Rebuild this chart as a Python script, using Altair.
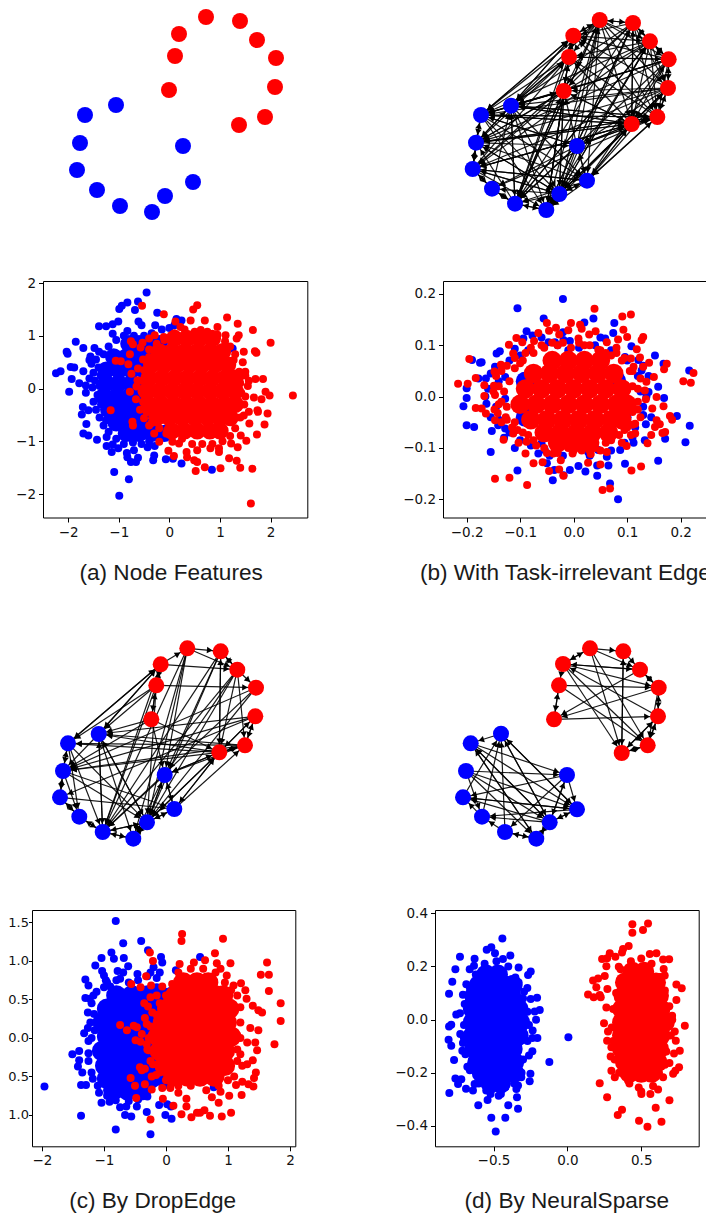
import math
import altair as alt
import pandas as pd

# ---------- graph node positions ----------
NODES_A = [(206,17),(240,21),(257,40),(276,58),(275,87),(265,117),(239,125),(169,90),(175,56),(179,34),
           (85,115),(116,105),(183,146),(193,182),(165,196),(152,212),(120,206),(97,190),(77,170),(80,143)]
NODES_B = [(599.7,20),(633,23),(650,41.3),(668.7,59.3),(668,88),(657.3,117),(631.7,124),(563.7,91),(569,57),(573.3,35.7),
           (481,115),(511,105.7),(577,146),(587,180.7),(559.3,194),(546.3,210),(515,203.7),(492,188.7),(472.7,169),(476,142.7)]
NODES_C = [(187.3,648.3),(220.7,651.3),(237.3,669.7),(256,687.7),(255.3,716.3),(245,745.3),(219.3,752.3),(151.3,719.3),(156.3,685.3),(160.7,664.3),
           (68,743.3),(98.7,734),(164.7,775),(174.3,809),(147,822.3),(133.3,838.7),(102.7,832),(79.3,816.7),(60,797.3),(63,771)]
NODES_D = [(590,648.3),(623.3,651.3),(640,669.7),(658.7,687.7),(658,716.3),(647.7,745.3),(621.7,753),(554,719.3),(559,685.3),(563,664),
           (470.7,743.3),(501,733.7),(567,775),(577,809.3),(549.7,822.3),(536.3,838.7),(505,832),(482,816.7),(463,797.3),(466,771)]

# ---------- graph edges: source -> targets (0-9 red nodes, 10-19 blue nodes) ----------
EDGES_B = {
 0:[1,2,3,8,9,6,5,4,7,10,11,15,16,13], 1:[0,2,3,4,5,6,7,9,11,14,15,16,18], 2:[1,3,4,5,6,8,10,14,15,18,19,16],
 3:[2,4,5,6,7,8,9,10,11,14,16,19], 4:[3,5,6,7,9,10,11,12,19,18,14], 5:[4,6,8,9,10,11,12,13,19,18,17],
 6:[5,4,1,7,8,10,11,12,13,14,19,18,15], 7:[8,6,11,10,19,18,16,15,14], 8:[7,9,3,10,11,19,16,15], 9:[8,0,2,10,11,16],
 10:[19,18,12,13,14,15,9,5,6,7], 11:[10,13,14,15,16,19,9,7,6,5,8], 12:[13,14,16,17,10,6,5,7,0], 13:[12,14,15,16,18,19,5,6,4,3],
 14:[13,15,16,17,18,19,6,7,0,2], 15:[14,16,7,8,1], 16:[15,17,19,11,7,0,2], 17:[16,18,11], 18:[17,19,13,14,15,6,8], 19:[18,10,11,12,14,6,5],
}
EDGES_C = {
 0:[1,2,16,12,15,14], 1:[2,6,14,16,12], 2:[1,3,5,6,14,12,16], 3:[19,16,14], 4:[5,6,11,19,18], 5:[4,6,19,10,11,12],
 6:[1,4,5,10,11,19,12,13,14], 7:[6,8,11,19,12], 8:[3,7,9,11,10,16,14], 9:[0,2,8,10,11,16],
 10:[9,14,19,17,16], 11:[9,14,15,16,19], 12:[6,13,14,15,16], 13:[5,6,12,14], 14:[6,11,12,13,15,16], 15:[14,16],
 16:[11,14,15,17], 17:[16,18], 18:[13,17,19], 19:[10,13,14,17,18],
}
EDGES_D = {
 0:[1,2,5,6,9], 1:[2,6], 2:[3,7,9], 3:[2,4,5,7], 4:[3,5,6,9], 5:[4,6], 6:[1,4,5], 7:[4,8], 8:[3,5,7], 9:[0,2,3,5,6,8],
 10:[12,13,14,15], 11:[10,13,14], 12:[13,14,16,18], 13:[11,14,17,18], 14:[10,11,12,13,15,17,18], 15:[10,14,16],
 16:[11,15,17], 17:[11,18], 18:[11,13], 19:[12,13,14,15,17],
}

# ---------- scatter (a): Node Features ----------
A_BLUE = [(-.45,1.82),(-.62,1.65),(-.83,1.63),(-.94,1.57),(-.99,1.51),(-.68,1.49),(-.24,1.44),(-1.01,1.27),(-1.12,1.22),(-1.25,1.18),(-1.39,1.18),(-.61,1.27),(-.55,1.2),(-.28,1.2),(-.83,1.09),(-1.12,1.04),(-1.85,.89),(-1.7,.77),(-2.01,.66),(-2.03,.7),(-1.48,.77),(-1.39,.7),(-1.56,.61),(-1.58,.54),(-1.54,.47),(-1.95,.41),(-1.88,.4),(-1.7,.33),(-2.15,.33),(-2.24,.29),(-1.93,.18),(-1.78,.1),(-1.98,-.06),(-1.58,.19),(-1.65,.06),(-1.65,-.08),(-1.71,-.35),(-1.73,-.49),(-1.6,-.41),(-1.64,-.67),(-1.7,-.85),(-1.6,-.89),(-1.43,-.97),(-1.24,-.92),(-1.24,-1.09),(-1.12,-1.06),(-1.01,-1.13),(-1.14,-1.2),(-.84,-1.22),(-.7,-1.17),(-.83,-1.3),(-.76,-1.39),(-.66,-1.39),(-.62,-1.31),(-1.09,-1.58),(-.8,-1.72),(-.99,-2.03),(-.43,-1.11),(-.29,-1.09),(-.3,-1.27),(-.32,-1.36),(-.07,-1.34),(.07,-1.33),(.24,-1.42),(.84,-1.54),(.14,1.32),(.24,1.29),(1.25,.76)]
A_BLUE_EDGE = [(-1.45,.55),(-1.4,.4),(-1.5,.3),(-1.47,.15),(-1.52,.02),(-1.42,-.12),(-1.5,-.25),(-1.45,-.4),(-1.38,-.55),(-1.3,-.7),(-1.2,-.82),(-1.05,-.95),(-.9,-1.05),(-.72,-1.02),(-.55,-1.05),(-.4,-1.),(-1.3,.65),(-1.2,.8),(-1.05,.92),(-.9,1.),(-.7,1.),(-.5,1.),(-.35,1.05),(-.15,1.12),(0,1.15),(.1,1.2),(-1.36,.25),(-1.38,.05),(-1.35,-.3),(-1.25,-.6)]
A_BLUE_CORE = {.85:[-.8,-.6,-.4,-.2],.6:[-1.1,-.85,-.6,-.35],.35:[-1.25,-1.,-.75,-.5],.1:[-1.25,-1.,-.75,-.5],-.15:[-1.3,-1.05,-.8,-.55],-.4:[-1.2,-.95,-.7,-.45],-.65:[-1.05,-.8,-.55],-.85:[-.85,-.6,-.35,-.1]}
A_RED = [(-.54,1.57),(-.11,1.41),(.55,1.58),(.47,1.5),(.42,1.29),(.7,1.29),(1.14,1.35),(1.35,1.23),(1.65,1.11),(2.,.87),(1.37,1.01),(1.33,.95),(1.47,.7),(1.69,.71),(1.72,.68),(1.85,.18),(1.7,.18),(1.57,.15),(1.9,-.06),(1.98,-.13),(1.82,-.2),(2.44,-.13),(1.67,-.17),(1.94,-.47),(1.74,-.41),(1.75,-.44),(1.57,-.44),(1.47,-.51),(1.88,-.68),(1.58,-.66),(1.73,-.87),(1.52,-.99),(1.41,-.89),(1.35,-1.11),(1.22,-1.04),(.81,-1.13),(.98,-1.13),(.98,-1.2),(1.18,-1.32),(1.33,-1.37),(1.4,-1.5),(1.64,-1.52),(1.01,-1.51),(.7,-1.49),(.52,-1.56),(.55,-1.39),(.49,-1.36),(.34,-1.2),(.35,-1.3),(.55,-1.17),(.09,-1.28),(-.02,-1.18),(1.61,-2.18),(-1.16,-.41),(-.73,-.63),(-.72,-.7),(-1.06,.53),(-.96,.52),(-.78,.65),(-.81,.46),(-.78,-.06),(-.76,.9),(-.72,.84),(-.53,.87),(-.57,.78),(-.4,.74),(-.52,.55),(-.62,.38),(-.75,.28),(-.63,.16),(-.65,.04),(-.66,-.2),(-.58,-.4),(-.5,-.56),(-.4,-.7),(-.3,-.85),(-.2,-1.01),(.19,-1.04),(.06,-1.01),(-.06,-.85),(-.4,.95),(-.29,1.01),(-.11,.98),(.12,1.27),(.22,1.17),(.62,1.11),(.95,1.17),(1.11,1.01),(.88,.95),(1.27,.54),(1.5,.32)]
A_RED_EDGE = [(1.45,.5),(1.5,.25),(1.55,.05),(1.5,-.15),(1.48,-.3),(1.4,-.55),(1.3,-.75),(1.2,-.9),(1.05,-1.),(.85,-1.05),(.65,-1.05),(.45,-1.05),(.25,-.95),(1.3,.65),(1.2,.8),(1.1,.9),(.95,1.02),(.75,1.08),(.5,1.08),(.3,1.12),(.1,1.05),(-.1,.92),(-.25,.85),(-.4,.6),(-.5,.35),(-.55,.15),(-.55,-.05),(-.52,-.25),(-.45,-.45),(-.35,-.65),(-.2,-.75),(1.38,.32),(1.4,.1),(1.42,-.08)]
A_RED_CORE = {.95:[.1,.35,.6,.85],.7:[-.2,.05,.3,.55,.8,1.05],.45:[-.35,-.1,.15,.4,.65,.9,1.15],.2:[-.4,-.15,.1,.35,.6,.85,1.1,1.3],-.05:[-.45,-.2,.05,.3,.55,.8,1.05,1.3],-.3:[-.4,-.15,.1,.35,.6,.85,1.1,1.3],-.55:[-.25,0,.25,.5,.75,1.,1.2],-.8:[.05,.3,.55,.8,1.]}

# ---------- scatter (b): With Task-irrelevant Edges ----------
B_BLUE = [(-.02,.19),(-.105,.172),(-.056,.152),(.037,.152),(.02,.144),(.076,.143),(.074,.124),(-.088,.127),(-.077,.119),(.059,.113),(.108,.098),(.152,.08),(.168,.064),(.216,.051),(.158,.019),(.169,-.003),(.193,-.038),(.217,-.057),(.209,-.089),(.171,-.082),(.158,-.125),(.135,-.054),(.096,-.131),(.133,-.085),(.112,-.09),(.087,-.104),(.083,-.2),(.068,-.169),(.065,-.134),(.044,-.154),(.044,-.134),(.022,-.146),(.009,-.135),(-.007,-.143),(-.019,-.153),(-.039,-.163),(-.036,-.143),(-.05,-.13),(-.066,-.111),(-.105,-.144),(-.155,-.108),(-.153,-.067),(-.141,-.056),(-.186,-.059),(-.2,-.056),(-.206,-.019),(-.2,-.003),(-.2,.016),(-.175,.066),(-.172,.067),(-.19,.071),(-.144,.084),(-.138,.088),(-.147,.058),(-.178,.035),(-.164,.035),(-.163,-.014),(-.165,0),(-.11,.093),(-.094,.113),(-.047,.106),(-.035,.106),(-.019,.11),(-.007,.108),(-.01,.09),(.096,.077),(.121,.071),(.127,.051),(.136,0),(.14,.009),(.13,-.036),(.062,-.117),(.046,-.104),(.027,-.108),(-.054,-.104),(-.06,-.091),(-.128,-.062),(-.128,-.004),(-.128,.038)]
B_BLUE_EDGE = [(-.12,.07),(-.1,.08),(-.085,.09),(-.14,.03),(-.145,-.02),(-.14,-.045),(-.12,-.07),(-.1,-.085),(-.08,-.095),(-.03,.1),(.01,.095),(.04,.1),(.07,.09),(.1,.07),(.12,.04),(.125,.01),(.13,-.02),(.115,-.06),(.095,-.09),(.07,-.105),(.03,-.115),(-.02,-.115),(-.045,-.115),(-.155,.045),(-.16,.015),(-.155,-.04),(-.13,-.08),(-.11,-.1),(.14,.04),(.145,-.04),(.13,.06),(.11,-.08),(.05,.115),(-.06,.115),(-.02,.125)]
B_BLUE_CORE = {.03:[-.09,.08],-.04:[-.09,.09]}
B_RED = [(.039,.171),(.107,.16),(.091,.156),(-.05,.143),(-.033,.134),(-.046,.128),(-.027,.121),(-.005,.143),(-.01,.129),(.012,.14),(.015,.132),(.041,.127),(.029,.121),(-.066,.124),(-.107,.114),(.093,.13),(.1,.116),(.083,.111),(.13,.116),(.127,.11),(.062,.106),(.009,.113),(-.096,.106),(-.121,.101),(-.074,.108),(-.113,.084),(-.195,.073),(-.136,.062),(-.148,.049),(-.183,.036),(-.198,.025),(-.216,.025),(-.167,.022),(-.149,.021),(-.167,.001),(-.183,-.022),(-.172,-.023),(-.164,-.033),(-.148,-.025),(-.142,-.032),(-.147,-.046),(-.135,-.05),(-.127,-.04),(-.131,-.084),(-.113,-.072),(-.103,-.09),(-.088,-.088),(-.09,-.111),(-.075,-.13),(-.058,-.128),(-.147,-.16),(-.12,-.158),(-.087,-.172),(-.046,-.145),(-.027,-.142),(-.019,-.154),(-.024,-.124),(-.038,-.111),(-.002,-.111),(.027,-.129),(.032,-.112),(.054,-.182),(.068,-.179),(.05,-.132),(.062,-.108),(.108,-.144),(.126,-.136),(.138,-.091),(.099,-.096),(.107,-.075),(.145,-.075),(.166,-.071),(.171,-.069),(.152,-.059),(.161,-.054),(.155,-.046),(.18,-.038),(.184,-.045),(.168,-.019),(.147,-.023),(.155,-.001),(.133,.012),(.15,.038),(.136,.029),(.205,.03),(.219,.027),(.224,.046),(.174,.064),(.169,.053),(.141,.066),(.13,.058),(.118,.092),(.124,.076),(.107,.074),(.112,.058),(.08,.095),(.046,.091),(.115,-.072),(.115,-.053),(-.147,.003)]
B_RED_EDGE = [(-.11,.055),(-.095,.07),(-.075,.085),(-.055,.095),(-.03,.1),(-.005,.095),(.02,.1),(.05,.09),(.07,.08),(.09,.07),(.105,.05),(.11,.02),(.12,-.01),(.11,-.03),(.1,-.06),(.085,-.075),(.06,-.09),(.03,-.105),(0,-.105),(-.03,-.1),(-.055,-.1),(-.075,-.085),(-.095,-.07),(-.11,-.05),(-.125,-.02),(-.13,.01),(-.12,.03),(-.145,.04),(-.135,.05),(-.125,.06),(-.11,.075),(-.1,.065),(-.09,.085),(-.14,.02),(-.15,.01),(-.135,-.01),(-.14,-.015),(-.125,-.045),(-.115,-.06),(-.105,-.065),(-.085,-.075),(-.07,-.095),(-.05,-.11),(-.03,-.11),(-.01,-.1),(.015,-.105),(.04,-.1),(.05,-.105),(.07,-.085),(.09,-.09),(.095,-.065),(.11,-.055),(.125,-.04),(.12,-.025),(.135,-.005),(.12,.015),(.125,.035),(.11,.05),(.095,.075),(.08,.085),(.06,.085),(.03,.1),(.01,.105),(-.02,.105),(-.04,.105),(-.06,.1),(-.08,.095)]
B_RED_CORE = {.07:[-.04,-.01,.02,.05],.045:[-.075,-.045,-.015,.015,.045,.075],.015:[-.09,-.06,-.03,0,.03,.06,.09],-.015:[-.1,-.07,-.04,-.01,.02,.05,.08,.1],-.045:[-.08,-.05,-.02,.01,.04,.07,.09],-.07:[-.055,-.025,.005,.035,.065],-.09:[-.03,0,.03]}

# ---------- scatter (c): By DropEdge ----------
C_BLUE = [(-.81,1.52),(-.4,1.26),(-.69,1.23),(-.88,1.11),(-.29,1.14),(-1.04,1.04),(-.84,1.03),(-.68,1.04),(-.08,1.05),(-.06,.98),(-1.14,.94),(-.61,.93),(-1.03,.87),(-1.,.81),(-.97,.75),(-.78,.87),(-.69,.85),(-.74,.77),(-.46,.83),(-1.3,.76),(-1.25,.68),(-1.,.66),(-.9,.67),(-1.3,.52),(-1.17,.55),(-1.23,.51),(-1.26,.33),(-1.16,.31),(-1.26,.13),(-1.32,.06),(-1.25,-.04),(-1.51,-.21),(-1.4,-.17),(-1.4,-.29),(-1.42,-.37),(-1.35,-.45),(-1.37,-.61),(-1.29,-.61),(-1.18,-.53),(-1.96,-.63),(-1.37,-1.01),(-1.08,-.71),(-1.04,-.84),(-.91,-.83),(-.81,-.81),(-.74,-.9),(-.64,-.89),(-.66,-1.),(-.56,-1.02),(-.47,-.89),(-.81,-1.19),(-.31,-.96),(-.25,-1.25),(-.11,-.87),(-.3,-.76),(-.01,-1.),(.09,-1.05),(.08,-.89),(.55,1.05),(.16,.88),(-.2,.92),(-.25,.85),(-.15,.66),(.07,.61),(.02,-.86),(.77,-.64)]
C_BLUE_EDGE = [(-1.2,.45),(-1.12,.6),(-1.22,.2),(-1.2,0),(-1.15,.1),(-1.25,-.2),(-1.25,-.3),(-1.2,-.45),(-1.1,-.62),(-.95,-.75),(-.85,-.72),(-.6,-.82),(-.45,-.8),(-.95,.72),(-.8,.75),(-.6,.72),(-.45,.75),(-.3,.8),(-.15,.78),(-.1,.85)]
C_BLUE_CORE = {.55:[-.8,-.55,-.3,-.1],.38:[-.95,-.7,-.45,-.2],.2:[-1.02,-.8,-.58,-.35,-.1],.02:[-.95,-.72,-.5,-.25],-.17:[-1.03,-.8,-.58,-.35,-.1],-.36:[-.98,-.75,-.52,-.3],-.53:[-.95,-.72,-.5,-.25,0],-.68:[-.85,-.62,-.4]}
C_RED = [(.26,1.35),(.25,1.26),(.92,1.29),(-.26,1.11),(-.21,1.),(.79,1.1),(1.63,.98),(1.04,.97),(1.53,.82),(1.66,.82),(1.66,.61),(1.85,.45),(1.85,.22),(1.75,-.08),(1.55,.33),(1.49,.36),(1.4,.42),(1.3,.51),(1.28,.62),(1.21,.71),(1.09,.68),(.98,.81),(.88,.9),(.82,.97),(.63,1.01),(.45,.98),(.22,.96),(1.36,.13),(1.49,.1),(1.44,-.06),(1.47,-.16),(1.31,-.06),(1.2,-.21),(1.4,-.29),(1.31,-.34),(1.23,-.36),(1.45,-.45),(1.42,-.52),(1.41,-.63),(1.33,-.6),(1.23,-.57),(1.13,-.61),(1.22,-.74),(1.02,-.75),(.88,-.7),(.85,-.84),(.74,-.77),(1.05,-.97),(.9,-1.02),(.71,-1.01),(.62,-.94),(.55,-.97),(.5,-.97),(.41,-1.03),(.25,-.99),(.33,-.89),(.33,-.79),(.12,-.88),(-.25,-1.06),(-.05,-.79),(-.48,-.78),(-.23,-.67),(-.06,-.65),(.07,-.65),(.2,-.71),(-.34,-.6),(-.5,-.62),(-.57,-.52),(-.42,-.38),(-.34,-.4),(-.39,-.42),(-.23,-.5),(-.16,-.48),(-.21,-.34),(-.49,-.03),(-.41,-.05),(-.39,.05),(-.52,.16),(-.47,.14),(-.63,.1),(-.74,.17),(-.34,.26),(-.31,.18),(-.22,.33),(-.29,.41),(-.35,.45),(-.25,.53),(-.56,.7),(-.41,.66),(-.24,.68),(-.32,.8),(-.06,.67),(-.15,.55),(-.31,-.08),(-.28,-.16)]
C_RED_EDGE = [(1.2,.4),(1.15,.55),(1.05,.62),(.95,.72),(.8,.85),(.6,.9),(.4,.9),(.2,.85),(.1,.7),(1.2,.2),(1.2,0),(1.15,-.15),(1.15,-.3),(1.1,-.5),(1.,-.55),(.85,-.62),(.65,-.68),(.4,-.62),(.2,-.62),(0,-.55),(-.1,-.45),(-.25,-.3),(-.3,-.15),(-.28,0),(-.25,.15),(-.15,.3),(-.1,.45),(0,.55)]
C_RED_CORE = {.72:[.28,.5,.68],.55:[.15,.37,.58,.8,.92],.38:[.02,.22,.42,.65,.85,1.02],.2:[-.05,.15,.35,.58,.78,.98],.02:[-.13,.08,.3,.5,.72,.92,1.05],-.17:[-.1,.1,.3,.52,.72,.95],-.36:[-.02,.2,.4,.62,.82,.95],-.5:[.12,.35,.55,.78]}

# ---------- scatter (d): By NeuralSparse ----------
D_BLUE = [(-.44,.305),(-.515,.272),(-.546,.263),(-.49,.25),(-.727,.237),(-.628,.229),(-.386,.241),(-.436,.228),(-.758,.19),(-.661,.19),(-.632,.203),(-.33,.196),(-.248,.181),(-.266,.168),(-.352,.159),(-.779,.143),(-.684,.133),(-.801,.097),(-.707,.094),(-.271,.119),(-.293,.105),(-.205,.082),(-.248,.078),(-.323,.071),(-.695,.059),(-.187,.036),(-.221,.031),(-.212,0),(-.727,.024),(-.752,.019),(-.786,-.019),(-.801,-.026),(-.725,-.054),(-.804,-.076),(-.786,-.098),(-.707,-.088),(-.767,-.152),(-.711,-.117),(-.677,-.177),(-.235,-.041),(-.203,-.069),(-.237,-.069),(-.237,-.119),(-.26,-.135),(-.122,-.159),(.007,-.066),(-.25,-.204),(-.255,-.232),(-.334,-.248),(-.345,-.261),(-.341,-.292),(-.334,-.335),(-.4,-.322),(-.42,-.369),(-.515,-.369),(-.485,-.421),(-.465,-.286),(-.54,-.302),(-.603,-.322),(-.758,-.221),(-.718,-.224),(-.74,-.242),(-.799,-.276),(-.686,-.26),(-.639,-.267),(-.628,-.242),(-.549,-.267),(-.312,-.217)]
D_BLUE_EDGE = [(-.62,.17),(-.56,.21),(-.48,.22),(-.4,.2),(-.33,.14),(-.3,.08),(-.27,.03),(-.26,-.02),(-.27,-.08),(-.3,-.15),(-.31,-.2),(-.36,-.24),(-.45,-.28),(-.52,-.28),(-.6,-.24),(-.66,-.19),(-.69,-.13),(-.7,-.07),(-.7,-.02),(-.68,.06),(-.66,.12)]
D_BLUE_CORE = {.17:[-.55,-.47],.13:[-.6,-.52,-.43,-.37],.09:[-.63,-.55,-.46,-.38],.04:[-.64,-.56,-.47,-.38,-.33],-.01:[-.64,-.56,-.47,-.38,-.32],-.06:[-.64,-.56,-.47,-.38,-.33],-.11:[-.63,-.55,-.46,-.37],-.16:[-.61,-.53,-.44,-.36],-.2:[-.58,-.5,-.41,-.36],-.24:[-.52,-.45]}
D_RED = [(.44,.359),(.546,.362),(.44,.327),(.512,.337),(.415,.277),(.377,.266),(.37,.253),(.287,.25),(.325,.237),(.269,.231),(.235,.228),(.558,.247),(.603,.25),(.648,.226),(.689,.227),(.264,.201),(.348,.199),(.253,.164),(.208,.155),(.174,.147),(.196,.122),(.14,.095),(.178,.084),(.219,.093),(.226,.084),(.738,.132),(.774,.118),(.738,.074),(.652,.191),(.659,.166),(.709,.015),(.795,-.023),(.727,-.045),(.734,-.079),(.761,-.117),(.722,-.127),(.691,-.163),(.756,-.179),(.731,-.192),(.716,-.204),(.248,-.014),(.275,-.045),(.269,-.079),(.298,-.104),(.293,-.139),(.298,-.192),(.321,-.217),(.219,-.239),(.269,-.292),(.37,-.339),(.341,-.359),(.485,-.38),(.542,-.403),(.637,-.384),(.598,-.331),(.691,-.303),(.562,-.28),(.501,-.28),(.614,-.263),(.648,-.217),(.483,-.255),(.411,-.229),(.264,.046),(.271,.115)]
D_RED_EDGE = [(.36,.19),(.43,.22),(.5,.23),(.57,.21),(.63,.16),(.66,.11),(.69,.05),(.71,0),(.7,-.06),(.67,-.12),(.66,-.17),(.62,-.2),(.58,-.25),(.5,-.27),(.42,-.24),(.35,-.2),(.32,-.15),(.31,-.08),(.3,-.03),(.31,.04),(.33,.1)]
D_RED_CORE = {.18:[.44,.52],.14:[.39,.46,.55,.6],.09:[.38,.46,.55,.62],.04:[.37,.45,.54,.63],-.01:[.37,.45,.54,.63,.66],-.06:[.37,.45,.54,.63],-.11:[.37,.45,.54,.62],-.16:[.39,.46,.55,.61],-.2:[.42,.5,.57]}

CAPTIONS = ["(a) Node Features", "(b) With Task-irrelevant Edges", "(c) By DropEdge", "(d) By NeuralSparse"]
BLUE, RED = "#0000ff", "#ff0000"


def spacer(w, h=1):
    return (alt.Chart(pd.DataFrame({"a": [0]})).mark_point(opacity=0, size=1)
            .encode(x=alt.value(1), y=alt.value(1))
            .properties(width=w, height=h, view=alt.ViewBackground(stroke=None)))


def graph(nodes, edges, x0, x1, y0, y1):
    xs = alt.Scale(domain=[x0, x1], nice=False, zero=False)
    ys = alt.Scale(domain=[y0, y1], nice=False, zero=False, reverse=True)
    X, Y = alt.X("x:Q", scale=xs, axis=None), alt.Y("y:Q", scale=ys, axis=None)
    node_df = pd.DataFrame([{"x": n[0], "y": n[1], "c": RED if i < 10 else BLUE} for i, n in enumerate(nodes)])
    e_rows, a_rows = [], []
    for s, ts in (edges or {}).items():
        for t in ts:
            (ax, ay), (bx, by) = nodes[s], nodes[t]
            d = math.hypot(bx - ax, by - ay)
            e_rows.append({"x": ax, "y": ay, "x2": bx, "y2": by})
            a_rows.append({"x": bx - (bx - ax) * 11 / d, "y": by - (by - ay) * 11 / d,
                           "ang": math.degrees(math.atan2(bx - ax, ay - by)) % 360})
    layers = []
    if e_rows:
        layers.append(alt.Chart(pd.DataFrame(e_rows)).mark_rule(color="black", strokeWidth=1.2, opacity=0.9)
                      .encode(x=X, y=Y, x2="x2:Q", y2="y2:Q"))
        layers.append(alt.Chart(pd.DataFrame(a_rows)).mark_point(shape="triangle-up", filled=True, color="black", size=42, opacity=1)
                      .encode(x=X, y=Y, angle=alt.Angle("ang:Q", scale=None)))
    layers.append(alt.Chart(node_df).mark_circle(size=256, opacity=1)
                  .encode(x=X, y=Y, color=alt.Color("c:N", scale=None)))
    return alt.layer(*layers).properties(width=x1 - x0, height=y1 - y0, view=alt.ViewBackground(stroke=None))


def flat(rows):
    return [(x, y) for y, xs in rows.items() for x in xs]


def scatter(blue, bcore, red, rcore, xd, yd, xv, yv, xf, yf, w, h, cap, title_dx, core=300, tight_y=False):
    ax = dict(grid=False, domain=False, tickColor="black", tickWidth=1, labelFont="DejaVu Sans",
              labelColor="#111111", title=None, labelOverlap=False, labelFlush=False)
    yax = dict(ax, tickSize=3.5, labelPadding=0, labelFontSize=13) if tight_y else dict(ax, tickSize=4.5, labelPadding=3, labelFontSize=13.5)
    X = alt.X("x:Q", scale=alt.Scale(domain=xd, nice=False, zero=False),
              axis=alt.Axis(values=xv, format=xf, tickSize=4.5, labelPadding=3, labelFontSize=13.5, **ax))
    Y = alt.Y("y:Q", scale=alt.Scale(domain=yd, nice=False, zero=False), axis=alt.Axis(values=yv, format=yf, **yax))
    def lay(pts, col, size):
        return (alt.Chart(pd.DataFrame(pts, columns=["x", "y"])).mark_circle(size=size, color=col, opacity=1)
                .encode(x=X, y=Y))
    return alt.layer(lay(flat(bcore), BLUE, core), lay(blue, BLUE, 64), lay(flat(rcore), RED, core), lay(red, RED, 64)).properties(
        width=w, height=h, view=alt.ViewBackground(stroke="black", strokeWidth=1),
        title=alt.TitleParams(cap, orient="bottom", anchor="middle", dx=title_dx, offset=23, font="Liberation Sans",
                              fontSize=22.6, fontWeight="normal", color="#1a1a1a"))


graph_a = graph(NODES_A, None, 50, 300, 8, 275)
graph_b = graph(NODES_B, EDGES_B, 460, 700, 8, 275)
graph_c = graph(NODES_C, EDGES_C, 50, 280, 630, 905)
graph_d = graph(NODES_D, EDGES_D, 450, 680, 630, 905)

sc_a = scatter(A_BLUE + A_BLUE_EDGE, A_BLUE_CORE, A_RED + A_RED_EDGE, A_RED_CORE, [-2.497, 2.725], [-2.444, 2.04], [-2, -1, 0, 1, 2], [-2, -1, 0, 1, 2], "d", "d", 264.3, 236.5, CAPTIONS[0], -4)
sc_b = scatter(B_BLUE + B_BLUE_EDGE, B_BLUE_CORE, B_RED + B_RED_EDGE, B_RED_CORE, [-.2442, .253], [-.2354, .225], [-.2, -.1, 0, .1, .2], [-.2, -.1, 0, .1, .2], ".1f", ".1f", 266, 236.5, CAPTIONS[1], -5, core=380)
sc_c = scatter(C_BLUE + C_BLUE_EDGE, C_BLUE_CORE, C_RED + C_RED_EDGE, C_RED_CORE, [-2.161, 2.086], [-1.407, 1.662], [-2, -1, 0, 1, 2], [-1, -.5, 0, .5, 1, 1.5], "d", ".1f", 263.3, 236.3, CAPTIONS[2], -11, core=420, tight_y=True)
sc_d = scatter(D_BLUE + D_BLUE_EDGE, D_BLUE_CORE, D_RED + D_RED_EDGE, D_RED_CORE, [-.896, .889], [-.4765, .4125], [-.5, 0, .5], [-.4, -.2, 0, .2, .4], ".1f", ".1f", 263.7, 236.3, CAPTIONS[3], 0, core=400)

def row(*charts):
    return alt.hconcat(*charts, spacing=0, bounds="flush")

row1 = row(spacer(59, 267), graph_a, spacer(160), graph_b)
row2 = row(spacer(51.7, 349), sc_a, spacer(135), sc_b)
row3 = row(spacer(59, 275), graph_c, spacer(170), graph_d)
row4 = row(spacer(40.7, 302), sc_c, spacer(139), sc_d)

chart = alt.vconcat(row1, row2, row3, row4, spacing=0).properties(
    padding={"left": -17, "top": 0, "right": -17, "bottom": -1})

chart.save("out.html", embed_options={"renderer": "svg", "actions": False})
